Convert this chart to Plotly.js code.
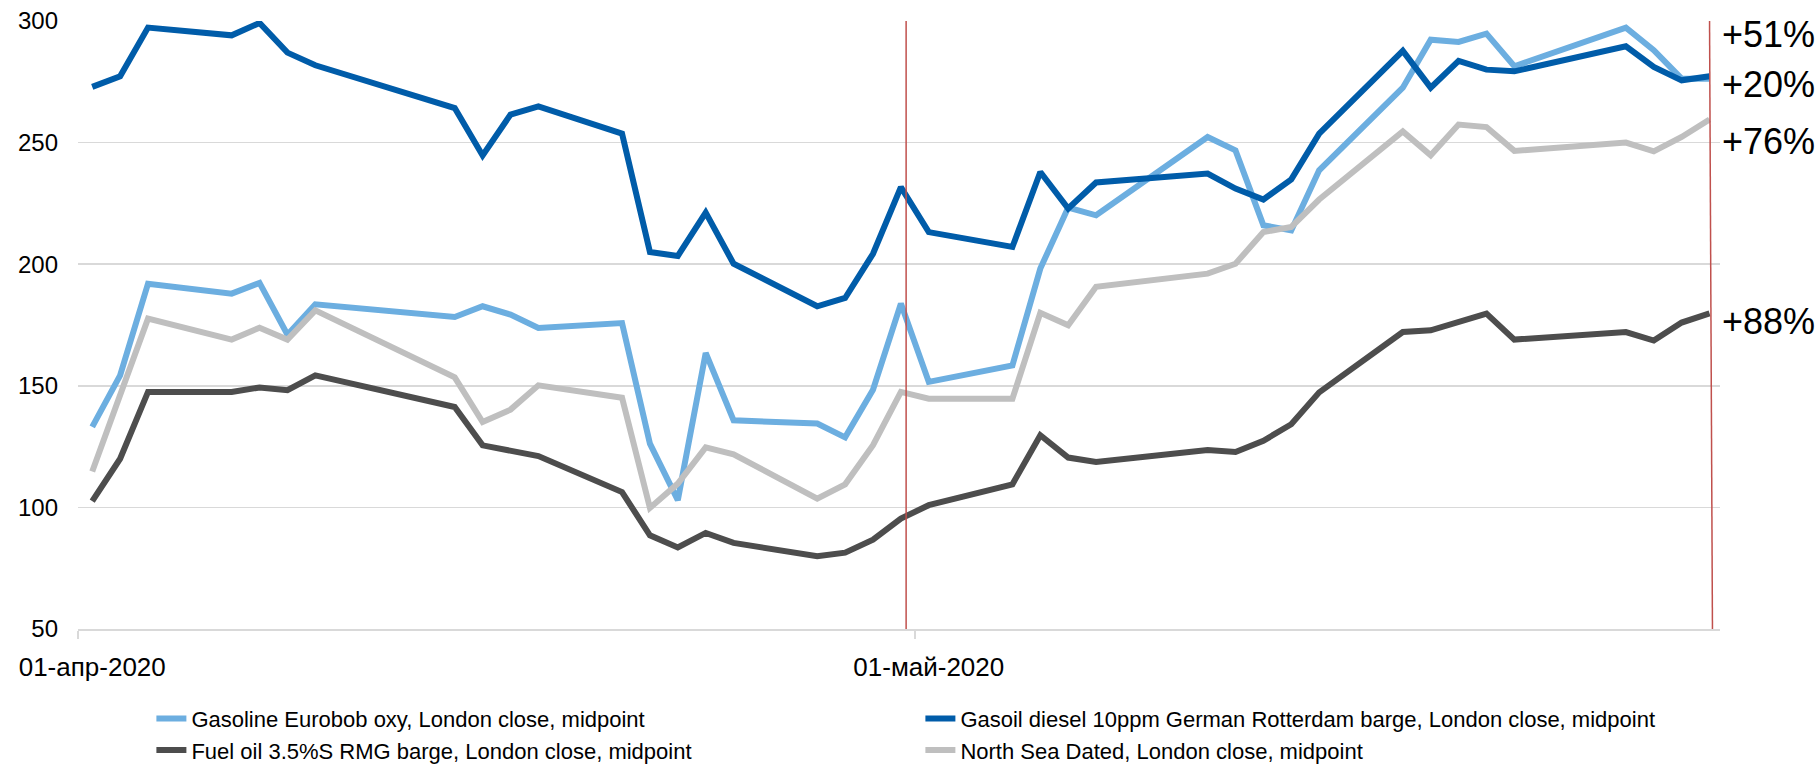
<!DOCTYPE html>
<html><head><meta charset="utf-8">
<script src="https://cdn.plot.ly/plotly-3.0.1.min.js"></script>
<style>html,body{margin:0;padding:0;background:#fff;} #chart{width:1820px;height:764px;}</style>
</head><body><div id="chart"></div>
<script>
const dates = ['2020-04-01','2020-04-02','2020-04-03','2020-04-06','2020-04-07','2020-04-08','2020-04-09',
  '2020-04-14','2020-04-15','2020-04-16','2020-04-17','2020-04-20','2020-04-21','2020-04-22','2020-04-23','2020-04-24',
  '2020-04-27','2020-04-28','2020-04-29','2020-04-30','2020-05-01','2020-05-04','2020-05-05','2020-05-06','2020-05-07',
  '2020-05-11','2020-05-12','2020-05-13','2020-05-14','2020-05-15','2020-05-18','2020-05-19','2020-05-20','2020-05-21','2020-05-22',
  '2020-05-26','2020-05-27','2020-05-28','2020-05-29'];
const gasoline = [133.1,154.3,192.0,187.9,192.3,171.0,183.5,
  178.3,182.7,179.3,173.8,175.8,126.2,103.0,163.5,135.8,
  134.5,128.8,148.4,183.8,151.6,158.4,198.2,223.3,220.1,
  252.3,246.8,216.0,213.9,238.6,272.6,292.3,291.4,294.8,281.4,
  297.3,288.0,276.3,276.3];
const gasoil = [272.9,277.3,297.3,294.1,299.2,287.0,281.8,
  264.2,244.7,261.5,264.9,253.7,205.0,203.4,221.2,200.2,
  182.7,186.1,204.3,231.7,213.2,207.1,237.9,222.9,233.6,
  237.3,231.1,226.6,234.9,253.7,287.7,272.6,283.6,280.0,279.3,
  289.6,281.1,275.6,277.3];
const fuelOil = [102.6,120.0,147.5,147.5,149.3,148.2,154.3,
  141.3,125.5,123.2,121.1,106.3,88.5,83.5,89.5,85.4,
  79.9,81.4,86.7,95.4,100.9,109.5,129.7,120.5,118.7,
  123.6,122.8,127.4,134.2,147.3,172.1,172.8,176.5,179.7,169.0,
  172.1,168.6,176.0,179.8];
const northSea = [114.8,145.4,177.6,169.0,173.9,169.0,181.0,
  153.5,135.1,140.2,150.2,145.1,99.8,109.8,124.7,121.8,
  103.6,109.5,125.6,147.5,144.7,144.7,180.0,174.9,190.7,
  196.1,200.2,213.2,215.3,226.6,254.6,244.8,257.4,256.4,246.6,
  250.0,246.4,252.3,259.5];

const seriesNames = ['Gasoline Eurobob oxy, London close, midpoint',
  'Gasoil diesel 10ppm German Rotterdam barge, London close, midpoint',
  'Fuel oil 3.5%S RMG barge, London close, midpoint',
  'North Sea Dated, London close, midpoint'];
const seriesColors = ['#6CAEE0','#005CA9','#4D4D4D','#BFBFBF'];
const seriesValues = [gasoline, gasoil, fuelOil, northSea];

const xTickVals = ['2020-04-01','2020-05-01'];
const xTickText = ['01-апр-2020','01-май-2020'];
const yTickVals = [50,100,150,200,250,300];

const changeLabels = ['+51%','+20%','+76%','+88%'];
const changeLabelY = [294.5, 274, 250.5, 176.5];

const baseLineDate = '2020-04-30 04:30';
const endLineTop = '2020-05-29 00:00';
const endLineBottom = '2020-05-29 02:30';

const traces = seriesValues.map((vals, i) => ({
  type: 'scatter', mode: 'lines', x: dates, y: vals, name: seriesNames[i],
  line: {color: seriesColors[i], width: 6}, hoverinfo: 'skip'
}));

const layout = {
  width: 1820, height: 764,
  margin: {l: 78, r: 100, t: 21, b: 135, autoexpand: false},
  paper_bgcolor: '#ffffff', plot_bgcolor: '#ffffff',
  font: {family: 'Liberation Sans, Arial, sans-serif', color: '#000000', size: 22},
  showlegend: true,
  legend: {orientation: 'h', x: 0.0447, xanchor: 'left', y: -0.113, yanchor: 'top',
    font: {size: 22, color: '#000'}, entrywidth: 724, entrywidthmode: 'pixels',
    itemwidth: 30, traceorder: 'normal', bgcolor: 'rgba(0,0,0,0)'},
  xaxis: {type: 'date', range: ['2020-03-31 11:45','2020-05-29 09:00'],
    tickmode: 'array', tickvals: xTickVals, ticktext: xTickText, ticks: '',
    showgrid: false, showline: true, linecolor: '#D9D9D9', linewidth: 1.5,
    tickfont: {size: 26, color: '#000'}, ticklabelstandoff: 14, zeroline: false,
    minor: {tickmode: 'array', tickvals: ['2020-03-31 11:45','2020-04-30 12:00'], ticks: 'outside',
      ticklen: 8, tickcolor: '#D9D9D9', tickwidth: 1.5, showgrid: false}},
  yaxis: {range: [50,300], tickmode: 'array', tickvals: yTickVals, showgrid: true,
    gridcolor: '#D9D9D9', gridwidth: 1.5, zeroline: false, ticks: '', showline: false,
    tickfont: {size: 24, color: '#000'}, ticklabelstandoff: 19},
  shapes: [
    {type: 'line', xref: 'x', yref: 'y', x0: baseLineDate, x1: baseLineDate, y0: 300, y1: 50,
      line: {color: '#C0504D', width: 1.5}},
    {type: 'line', xref: 'x', yref: 'y', x0: endLineTop, x1: endLineBottom, y0: 300, y1: 50,
      line: {color: '#C0504D', width: 1.5}}
  ],
  annotations: changeLabels.map((t, i) => ({
    text: t, xref: 'paper', x: 1, xanchor: 'left', xshift: 0, yref: 'y', y: changeLabelY[i],
    yanchor: 'middle', showarrow: false, font: {size: 36, color: '#000'}
  }))
};

Plotly.newPlot('chart', traces, layout, {displayModeBar: false, staticPlot: true});
</script></body></html>
